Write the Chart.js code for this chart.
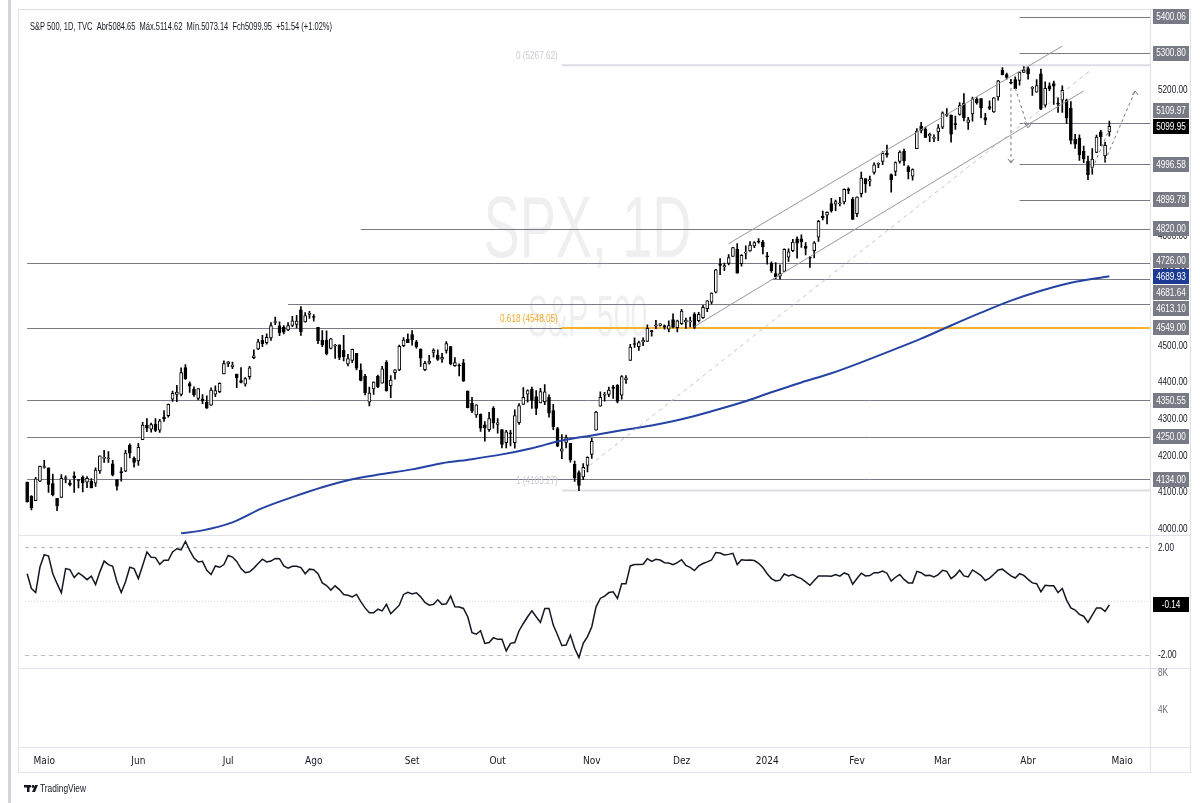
<!DOCTYPE html>
<html>
<head>
<meta charset="utf-8">
<script src="https://cdn.jsdelivr.net/npm/chart.js@4.4.1/dist/chart.umd.min.js"></script>
<style>
  html, body { margin: 0; padding: 0; background: #fff; }
  #wrap { width: 1200px; height: 803px; }
</style>
</head>
<body>
<div id="wrap"><canvas id="spx" width="1200" height="803"></canvas></div>
<script>
// dias de pregão (SPX diário, abr/2023 - mai/2024)
const months = ['2023-04','2023-05','2023-06','2023-07','2023-08','2023-09','2023-10','2023-11','2023-12','2024-01','2024-02','2024-03','2024-04','2024-05'];
const monthDays = [
  [25,26,27,28],
  [1,2,3,4,5,8,9,10,11,12,15,16,17,18,19,22,23,24,25,26,30,31],
  [1,2,5,6,7,8,9,12,13,14,15,16,20,21,22,23,26,27,28,29,30],
  [3,5,6,7,10,11,12,13,14,17,18,19,20,21,24,25,26,27,28,31],
  [1,2,3,4,7,8,9,10,11,14,15,16,17,18,21,22,23,24,25,28,29,30,31],
  [1,5,6,7,8,11,12,13,14,15,18,19,20,21,22,25,26,27,28,29],
  [2,3,4,5,6,9,10,11,12,13,16,17,18,19,20,23,24,25,26,27,30,31],
  [1,2,3,6,7,8,9,10,13,14,15,16,17,20,21,22,24,27,28,29,30],
  [1,4,5,6,7,8,11,12,13,14,15,18,19,20,21,22,26,27,28,29],
  [2,3,4,5,8,9,10,11,12,16,17,18,19,22,23,24,25,26,29,30,31],
  [1,2,5,6,7,8,9,12,13,14,15,16,20,21,22,23,26,27,28,29],
  [1,4,5,6,7,8,11,12,13,14,15,18,19,20,21,22,25,26,27,28],
  [1,2,3,4,5,8,9,10,11,12,15,16,17,18,19,22,23,24,25,26,29,30],
  [1,2,3,6,7,8,9]
];
const monthNames = ['Jan','Fev','Mar','Abr','Maio','Jun','Jul','Ago','Set','Out','Nov','Dez'];

// OHLC
const opens = [
  4126,4087,4075,4129,
  4166,4165,4122,4082,4084,4136,4124,4143,4132,4139,4126,4128,4123,4157,4191,4190,4176,4133,4155,4156,4227,4191,
  4184,4242,4282,4271,4285,4268,4304,4308,4353,4366,4366,4440,4396,4381,4355,4354,4345,4337,4367,4374,4422,
  4450,4442,4422,4404,4394,4415,4467,4491,4514,4508,4521,4563,4554,4550,4543,4555,4558,4598,4565,4585,
  4579,4550,4515,4514,4492,4498,4502,4487,4450,4459,4479,4433,4416,4345,4381,4416,4397,4455,4390,4426,4433,4500,4518,
  4530,4510,4490,4434,4452,4481,4474,4463,4487,4497,4445,4445,4453,4375,4342,4310,4312,4283,4270,4328,
  4284,4270,4234,4260,4234,4289,4339,4367,4380,4360,4343,4346,4358,4322,4273,4211,4235,4232,4175,4152,4140,4172,
  4202,4268,4334,4364,4366,4385,4391,4364,4406,4459,4505,4497,4510,4511,4539,4553,4555,4555,4545,4571,4549,
  4560,4564,4565,4586,4568,4576,4601,4619,4646,4721,4715,4725,4744,4764,4724,4753,4759,4773,4786,4783,
  4745,4726,4697,4690,4703,4742,4760,4792,4792,4772,4740,4760,4797,4854,4857,4889,4887,4888,4893,4925,4900,
  4861,4916,4957,4950,4974,4996,5004,5027,4968,4977,5004,5032,4989,4964,5039,5100,5093,5074,5067,5085,
  5098,5131,5131,5108,5133,5164,5111,5134,5174,5176,5124,5154,5140,5181,5254,5242,5220,5228,5226,5248,
  5258,5204,5194,5244,5158,5211,5217,5161,5172,5172,5150,5065,5068,5032,5005,4988,5029,5085,5019,5084.65
];
const highs = [
  4126,4089,4139,4170,
  4186,4165,4148,4082,4147,4143,4131,4154,4133,4143,4141,4136,4165,4198,4213,4210,4186,4133,4166,4213,4231,4195,
  4232,4290,4300,4288,4300,4298,4322,4340,4375,4391,4439,4448,4401,4387,4382,4366,4362,4384,4390,4398,4458,
  4456,4455,4422,4440,4412,4443,4488,4517,4528,4532,4563,4578,4565,4555,4563,4580,4583,4607,4590,4594,
  4585,4550,4541,4540,4520,4503,4502,4528,4476,4490,4479,4450,4421,4386,4401,4419,4443,4459,4418,4434,4501,4522,4532,
  4541,4514,4491,4457,4473,4491,4488,4479,4511,4498,4467,4450,4462,4376,4358,4338,4313,4292,4317,4333,
  4300,4270,4268,4268,4324,4341,4385,4379,4386,4377,4383,4393,4365,4339,4276,4256,4255,4232,4184,4157,4177,4195,
  4246,4320,4373,4372,4386,4391,4393,4418,4418,4503,4521,4512,4521,4557,4542,4569,4560,4557,4568,4587,4570,
  4599,4575,4578,4590,4591,4610,4623,4644,4709,4738,4726,4749,4769,4779,4749,4773,4785,4785,4793,4788,
  4755,4729,4727,4721,4765,4765,4791,4798,4803,4782,4744,4785,4843,4868,4866,4903,4898,4906,4929,4932,4906,
  4907,4975,4957,4964,5000,5000,5031,5049,4970,5003,5033,5038,4993,4984,5094,5111,5098,5082,5077,5105,
  5140,5149,5132,5128,5165,5190,5125,5180,5179,5176,5136,5170,5179,5226,5261,5246,5229,5236,5249,5264,
  5263,5209,5228,5257,5222,5219,5224,5178,5211,5175,5168,5078,5077,5046,5019,5039,5076,5089,5057,5114.62
];
const lows = [
  4071,4050,4075,4127,
  4164,4098,4088,4048,4084,4124,4116,4098,4110,4099,4111,4110,4114,4150,4180,4180,4143,4104,4129,4155,4192,4167,
  4172,4242,4264,4263,4264,4262,4292,4304,4347,4346,4362,4407,4372,4361,4351,4341,4328,4336,4360,4371,4422,
  4442,4437,4385,4398,4389,4408,4464,4489,4497,4504,4514,4557,4527,4532,4541,4552,4548,4528,4564,4574,
  4567,4505,4497,4474,4491,4465,4461,4458,4444,4453,4433,4403,4365,4335,4366,4385,4397,4375,4357,4408,4431,4497,4508,
  4501,4493,4443,4431,4449,4468,4459,4454,4479,4447,4443,4417,4402,4329,4316,4303,4265,4238,4265,4274,
  4260,4220,4220,4225,4219,4284,4339,4345,4328,4311,4343,4338,4304,4270,4223,4190,4220,4181,4128,4103,4133,4154,
  4191,4268,4334,4348,4360,4355,4343,4353,4396,4459,4495,4487,4500,4511,4526,4546,4553,4545,4537,4548,4537,
  4558,4547,4551,4546,4565,4574,4593,4614,4644,4694,4705,4721,4744,4698,4717,4737,4758,4768,4780,4751,
  4723,4700,4683,4682,4703,4730,4757,4739,4769,4748,4714,4740,4785,4844,4833,4865,4869,4882,4888,4916,4845,
  4853,4907,4919,4937,4969,4987,4995,5016,4920,4965,4999,4993,4956,4953,5039,5082,5069,5058,5058,5061,
  5094,5127,5057,5092,5131,5115,5092,5114,5161,5123,5105,5146,5138,5172,5241,5229,5216,5203,5213,5248,
  5229,5185,5194,5146,5153,5198,5160,5138,5138,5108,5052,5040,5007,5001,4954,4969,5028,5047,5002,5073.14
];
const closes = [
  4071.63,4055.99,4135.35,4169.48,
  4167.87,4119.58,4090.75,4061.22,4136.25,4138.12,4119.17,4137.64,4130.62,4124.08,4136.28,4109.90,4158.77,4198.05,4191.98,4192.63,4145.58,4115.24,4151.28,4205.45,4205.52,4179.83,
  4221.02,4282.37,4273.79,4283.85,4267.52,4293.93,4298.86,4338.93,4369.01,4372.59,4425.84,4409.59,4388.71,4365.69,4381.89,4348.33,4328.82,4378.41,4376.86,4396.44,4450.38,
  4455.59,4446.82,4411.59,4398.95,4409.53,4439.26,4472.16,4510.04,4505.42,4522.79,4554.98,4565.72,4534.87,4536.34,4554.64,4567.46,4566.75,4537.41,4582.23,4588.96,
  4576.73,4513.39,4501.89,4478.03,4518.44,4499.38,4467.71,4468.83,4464.05,4489.72,4437.86,4404.33,4370.36,4369.71,4399.77,4387.55,4436.01,4376.31,4405.71,4433.31,4497.63,4514.87,4507.66,
  4515.77,4496.83,4465.48,4451.14,4457.49,4487.46,4461.90,4467.44,4505.10,4450.32,4453.53,4443.95,4402.20,4330.00,4320.06,4337.44,4273.53,4274.51,4299.70,4288.05,
  4288.39,4229.45,4263.75,4258.19,4308.50,4335.66,4358.24,4376.95,4349.61,4327.78,4373.63,4373.20,4314.60,4278.00,4224.16,4217.04,4247.68,4186.77,4137.23,4117.37,4166.82,4193.80,
  4237.86,4317.78,4358.34,4365.98,4378.38,4382.78,4347.35,4415.24,4411.55,4495.70,4502.88,4508.24,4514.02,4547.38,4538.19,4556.62,4559.34,4550.43,4554.89,4550.58,4567.80,
  4594.63,4569.78,4567.18,4549.34,4585.59,4604.37,4622.44,4643.70,4707.09,4719.55,4719.19,4740.56,4768.37,4698.35,4746.75,4754.63,4774.75,4781.58,4783.35,4769.83,
  4742.83,4704.81,4688.68,4697.24,4763.54,4756.50,4783.45,4780.24,4783.83,4765.98,4739.21,4780.94,4839.81,4850.43,4864.60,4868.55,4894.16,4890.97,4927.93,4924.97,4845.65,
  4906.19,4958.61,4942.81,4954.23,4995.06,4997.91,5026.61,5021.84,4953.17,5000.62,5029.73,5005.57,4975.51,4981.80,5087.03,5088.80,5069.53,5078.18,5069.76,5096.27,
  5137.08,5130.95,5078.65,5104.76,5157.36,5123.69,5117.94,5175.27,5165.31,5150.48,5117.09,5149.42,5178.51,5224.62,5241.53,5234.18,5218.19,5203.58,5248.49,5254.35,
  5243.77,5205.81,5211.49,5147.21,5204.34,5202.39,5209.91,5160.64,5199.06,5123.41,5061.82,5051.41,5022.21,5011.12,4967.23,5010.60,5070.55,5071.63,5048.42,5099.95
];

// oscilador do painel inferior
const oscValues = [
  1.02,0.47,0.32,1.27,1.73,1.68,1.02,0.65,0.31,1.21,
  1.17,0.88,1.05,0.94,0.80,0.93,0.62,1.09,1.49,1.36,
  1.30,0.72,0.32,0.72,1.26,1.21,0.84,1.33,1.83,1.63,
  1.62,1.37,1.52,1.52,1.83,1.95,1.91,2.22,1.89,1.60,
  1.46,1.48,1.15,0.99,1.31,1.26,1.36,1.70,1.64,1.48,
  1.21,1.06,1.09,1.23,1.40,1.56,1.46,1.49,1.59,1.58,
  1.31,1.23,1.30,1.30,1.25,1.02,1.19,1.17,1.02,0.68,
  0.58,0.41,0.57,0.43,0.25,0.22,0.16,0.25,-0.02,-0.25,
  -0.43,-0.43,-0.30,-0.36,-0.12,-0.47,-0.31,-0.15,0.25,0.33,
  0.27,0.31,0.16,-0.05,-0.15,-0.12,0.05,-0.12,-0.10,0.19,
  -0.21,-0.22,-0.27,-0.58,-1.17,-1.23,-1.10,-1.57,-1.54,-1.36,
  -1.42,-1.42,-1.85,-1.57,-1.54,-1.10,-0.83,-0.58,-0.36,-0.58,
  -0.79,-0.27,-0.27,-0.89,-1.26,-1.65,-1.63,-1.26,-1.75,-2.10,
  -1.57,-1.32,-0.95,-0.21,0.10,0.19,0.32,0.35,0.10,0.65,
  0.65,1.31,1.36,1.36,1.37,1.58,1.48,1.56,1.53,1.43,
  1.42,1.36,1.43,1.54,1.33,1.26,1.14,1.31,1.40,1.46,
  1.53,1.81,1.79,1.72,1.74,1.78,1.36,1.54,1.52,1.53,
  1.51,1.41,1.25,1.02,0.84,0.75,0.78,1.01,0.94,0.99,
  0.90,0.84,0.72,0.59,0.77,0.94,0.94,0.94,0.93,0.99,
  0.93,1.05,0.99,0.63,0.84,1.04,0.94,0.95,1.06,1.06,
  1.12,1.04,0.75,0.89,0.99,0.81,0.68,0.68,1.11,1.06,
  0.95,0.96,0.90,0.99,1.15,1.11,0.84,0.96,1.15,0.94,
  0.90,1.16,1.06,0.95,0.77,0.86,1.00,1.16,1.19,1.06,
  0.94,0.86,1.02,0.96,0.81,0.68,0.65,0.35,0.59,0.57,
  0.57,0.32,0.47,0.04,-0.25,-0.33,-0.49,-0.56,-0.79,-0.52,
  -0.25,-0.25,-0.38,-0.14
];

// média móvel 200 (um ponto por semana aprox.)
const maDates = ['2023-06-15','2023-06-23','2023-07-05','2023-07-14','2023-07-25','2023-08-03','2023-08-14','2023-08-23',
  '2023-09-01','2023-09-13','2023-09-22','2023-10-03','2023-10-12','2023-10-23','2023-11-01','2023-11-10','2023-11-21',
  '2023-12-01','2023-12-12','2023-12-21','2024-01-03','2024-01-12','2024-01-24','2024-02-02','2024-02-13','2024-02-23',
  '2024-03-05','2024-03-14','2024-03-25','2024-04-04','2024-04-15','2024-04-26'];
const maValues = [3986,3994,4016,4055,4085,4112,4134,4148,4161,4178,4189,4202,4219,4240,4254,4268,4281,
  4298,4320,4344,4372,4399,4424,4454,4486,4519,4555,4590,4623,4650,4672,4689.93];

// níveis horizontais desenhados
const levelPrices = [5400.06, 5300.80, 5109.97, 4996.58, 4899.78, 4820.00, 4726.00, 4681.64, 4613.10, 4549.00, 4350.55, 4250.00, 4134.00];
const levelFrom   = ['2024-03-27','2024-03-27','2024-03-27','2024-03-27','2024-03-27','2023-08-16','2023-04-25','2024-01-03','2023-07-24','2023-04-25','2023-04-25','2023-04-25','2023-04-25'];

// Fibonacci
const fibFrom = '2023-10-23';
const fibLevels = [5267.62, 4548.05, 4103.27];
const fibTexts = ['0 (5267.62)', '0.618 (4548.05)', '1 (4103.27)'];

// etiquetas do eixo de preço
const tagPrices = [5400.06, 5300.80, 5109.97, 5099.95, 4996.58, 4899.78, 4820.00, 4726.00, 4689.93, 4681.64, 4613.10, 4549.00, 4350.55, 4250.00, 4134.00];
const tagKinds  = ['lv','lv','lv','last','lv','lv','lv','lv','ma','lv','lv','lv','lv','lv','lv'];
const oscLast = -0.14;

const labels = months.flatMap((m, k) => monthDays[k].map(d => m + '-' + String(d).padStart(2, '0')));

const NARROW = "'Liberation Sans Narrow', 'DejaVu Sans Condensed', sans-serif";
const SANS = "'Liberation Sans', Arial, sans-serif";
const INK = '#131722';
const GRAY = '#787b86';
const MA_BLUE = '#2443a3';

const bodyColors = opens.map((o, i) => closes[i] >= o ? '#ffffff' : '#000000');
const pt = (d, v) => ({ x: d, y: v });

function trend(label, a, b, color, dash, width) {
  return { type: 'line', label, data: [a, b], borderColor: color, borderWidth: width || 1,
    borderDash: dash || [], pointRadius: 0, yAxisID: 'y', order: 0 };
}

function squeezeText(ctx, s, x, y, size, color, align, sx, weight) {
  ctx.save();
  ctx.font = (weight || 'normal') + ' ' + size + 'px ' + SANS;
  ctx.translate(x, y);
  ctx.scale(sx, 1);
  ctx.textAlign = align;
  ctx.textBaseline = 'middle';
  ctx.fillStyle = color;
  ctx.fillText(s, 0, 0);
  ctx.restore();
}

function textWidth(ctx, s, size, weight) {
  ctx.save();
  ctx.font = (weight || 'normal') + ' ' + size + 'px ' + SANS;
  const w = ctx.measureText(s).width;
  ctx.restore();
  return w;
}

function fitText(ctx, s, x, y, size, color, width, weight) {
  squeezeText(ctx, s, x, y, size, color, 'left', width / textWidth(ctx, s, size, weight), weight);
}

const overlay = {
  id: 'overlay',
  beforeDraw(chart) {
    const c = chart.ctx;
    c.save();
    c.fillStyle = '#fff';
    c.fillRect(0, 0, chart.width, chart.height);
    c.strokeStyle = '#e0e3eb';
    c.lineWidth = 1;
    c.strokeRect(18.5, 9.5, 1172, 763);
    c.fillStyle = '#d1d4dc';
    c.fillRect(8, 0, 3, 803);
    const a = chart.chartArea, y = chart.scales.y, o = chart.scales.osc;
    c.beginPath();
    c.moveTo(18, Math.round(y.bottom) + 0.5); c.lineTo(1191, Math.round(y.bottom) + 0.5);
    c.moveTo(18, Math.round(o.bottom) + 0.5); c.lineTo(1191, Math.round(o.bottom) + 0.5);
    c.moveTo(18, Math.round(a.bottom) + 0.5); c.lineTo(1191, Math.round(a.bottom) + 0.5);
    c.moveTo(Math.round(a.right) + 0.5, 10); c.lineTo(Math.round(a.right) + 0.5, a.bottom + 25);
    c.stroke();
    c.restore();
  },
  beforeDatasetsDraw(chart) {
    const c = chart.ctx, x = chart.scales.x, y = chart.scales.y, o = chart.scales.osc, a = chart.chartArea;
    c.save();
    // rótulos dos eixos da direita (estreitos, como no original)
    ['y', 'osc', 'vol'].forEach(id => {
      const s = chart.scales[id];
      const col = id === 'vol' ? '#6a6d78' : INK;
      s.ticks.forEach(t => {
        squeezeText(c, s.options.ticks.callback(t.value), s.left + 8, s.getPixelForValue(t.value) + 0.5, 10.5, col, 'left', 0.78);
      });
    });
    // marca d'água
    const cx = x.getPixelForValue(labels.indexOf('2023-10-31'));
    squeezeText(c, 'SPX, 1D', cx, y.getPixelForValue(4808), 88, 'rgba(120,123,134,0.12)', 'center',
      208 / textWidth(c, 'SPX, 1D', 88));
    squeezeText(c, 'S&P 500', cx, y.getPixelForValue(4570), 58, 'rgba(120,123,134,0.12)', 'center',
      120 / textWidth(c, 'S&P 500', 58));

    // linhas de nível
    c.lineWidth = 1;
    c.strokeStyle = GRAY;
    levelPrices.forEach((p, k) => {
      const yy = Math.round(y.getPixelForValue(p)) + 0.5;
      c.beginPath();
      c.moveTo(x.getPixelForValue(labels.indexOf(levelFrom[k])), yy);
      c.lineTo(a.right, yy);
      c.stroke();
    });
    // Fibonacci
    const fx = x.getPixelForValue(labels.indexOf(fibFrom));
    fibLevels.forEach((p, k) => {
      const yy = y.getPixelForValue(p);
      c.beginPath();
      c.strokeStyle = k === 1 ? '#f6b12f' : '#dcdee4';
      c.lineWidth = 2;
      c.moveTo(fx, yy); c.lineTo(a.right, yy);
      c.stroke();
      squeezeText(c, fibTexts[k], fx - 4, yy - 9, 10.5, k === 1 ? '#f0a92a' : '#c8cad1', 'right', 0.78);
    });
    // guias do oscilador
    c.lineWidth = 1;
    [2, -2].forEach(v => {
      const yy = Math.round(o.getPixelForValue(v)) + 0.5;
      c.strokeStyle = '#b8bbc3';
      c.setLineDash([4, 4]);
      c.beginPath(); c.moveTo(a.left, yy); c.lineTo(a.right, yy); c.stroke();
    });
    const y0 = Math.round(o.getPixelForValue(0)) + 0.5;
    c.strokeStyle = '#d6d8de';
    c.setLineDash([1, 2]);
    c.beginPath(); c.moveTo(a.left, y0); c.lineTo(a.right, y0); c.stroke();
    c.restore();
  },
  afterDatasetsDraw(chart) {
    const c = chart.ctx, y = chart.scales.y, o = chart.scales.osc;
    c.save();
    // pontas de seta
    const head = (name, which, dir) => {
      const idx = chart.data.datasets.findIndex(d => d.label === name);
      const p = chart.getDatasetMeta(idx).data[which];
      c.strokeStyle = GRAY; c.lineWidth = 1; c.setLineDash([]);
      c.beginPath();
      c.moveTo(p.x - 3, p.y - 4 * dir); c.lineTo(p.x, p.y); c.lineTo(p.x + 3, p.y - 4 * dir);
      c.stroke();
    };
    head('arrowA', 1, 1);
    head('arrowB', 1, 1);
    head('arrowD', 1, -1);

    // etiquetas do eixo direito
    const H = 16;
    const ys = tagPrices.map(p => y.getPixelForValue(p));
    const pinned = tagKinds.map(k => k !== 'lv');
    for (let pass = 0; pass < 30; pass++) {
      let moved = false;
      for (let k = 1; k < ys.length; k++) {
        const gap = ys[k] - ys[k - 1];
        if (gap < H - 0.01) {
          const d = H - gap;
          if (pinned[k - 1]) ys[k] += d;
          else if (pinned[k]) ys[k - 1] -= d;
          else { ys[k - 1] -= d / 2; ys[k] += d / 2; }
          moved = true;
        }
      }
      if (!moved) break;
    }
    const bx = chart.chartArea.right + 3;
    const tag = (txt, yy, bg) => {
      c.fillStyle = bg;
      c.fillRect(bx, Math.round(yy - 7.5), 36, 15);
      squeezeText(c, txt, bx + 18, yy + 0.5, 10.5, '#fff', 'center', 0.78);
    };
    tagPrices.forEach((p, k) => {
      const bg = tagKinds[k] === 'last' ? '#000' : tagKinds[k] === 'ma' ? '#1c3a93' : GRAY;
      tag(p.toFixed(2), ys[k], bg);
    });
    tag(oscLast.toFixed(2), o.getPixelForValue(oscLast), '#000');
    c.restore();
  },
  afterDraw(chart) {
    const c = chart.ctx;
    fitText(c, 'S&P 500, 1D, TVC  Abr5084.65  Máx.5114.62  Mín.5073.14  Fch5099.95  +51.54 (+1.02%)', 30, 27, 11, INK, 302);
    // logo
    c.save();
    c.fillStyle = INK;
    c.fillRect(24, 785, 7, 2.5);
    c.fillRect(27, 785, 2.5, 7);
    c.beginPath(); c.arc(33, 786.5, 1.4, 0, Math.PI * 2); c.fill();
    c.beginPath(); c.moveTo(35, 785); c.lineTo(38, 785); c.lineTo(35, 792); c.lineTo(32, 792); c.closePath(); c.fill();
    c.restore();
    fitText(c, 'TradingView', 40, 789, 11, INK, 46);
  }
};

const tickFont = { family: NARROW, size: 10 };
// os rótulos da direita são desenhados pelo plugin (texto estreito); o Chart.js só calcula os ticks
const hiddenTicks = { padding: 7, font: tickFont, color: 'rgba(0,0,0,0)' };

new Chart(document.getElementById('spx'), {
  type: 'bar',
  data: {
    labels,
    datasets: [
      { label: 'wick', data: lows.map((l, i) => [l, highs[i]]), backgroundColor: '#000',
        barThickness: 1, grouped: false, yAxisID: 'y', order: 3 },
      { label: 'body', data: opens.map((op, i) => [op, closes[i]]), backgroundColor: bodyColors,
        borderColor: '#000', borderWidth: 1, borderSkipped: false, barThickness: 3, minBarLength: 1,
        grouped: false, yAxisID: 'y', order: 2 },
      { type: 'line', label: 'ma200', data: maDates.map((d, k) => pt(d, maValues[k])), borderColor: MA_BLUE,
        borderWidth: 2, pointRadius: 0, cubicInterpolationMode: 'monotone', yAxisID: 'y', order: 1 },
      trend('chanTop', pt('2023-12-18', 4779), pt('2024-04-11', 5320), '#9598a1'),
      trend('chanLow', pt('2023-12-06', 4552), pt('2024-04-18', 5197), '#9598a1'),
      trend('fibTrend', pt('2023-10-30', 4158), pt('2024-04-22', 5257), '#c3c5cc', [4, 4]),
      trend('arrowA', pt('2024-03-25', 5205), pt('2024-03-25', 5000), GRAY, [3, 3]),
      trend('arrowB', pt('2024-03-26', 5205), pt('2024-04-01', 5096), GRAY, [3, 3]),
      trend('arrowC', pt('2024-04-22', 4984), pt('2024-04-26', 5093), GRAY, [3, 3]),
      trend('arrowD', pt('2024-04-25', 5006), pt('2024-05-06', 5197), GRAY, [3, 3]),
      { type: 'line', label: 'osc', data: oscValues, borderColor: INK, borderWidth: 1.5,
        pointRadius: 0, yAxisID: 'osc', order: 1 }
    ]
  },
  options: {
    responsive: false,
    animation: false,
    devicePixelRatio: 1,
    layout: { padding: { left: 25, top: 12, right: 10, bottom: 31 } },
    plugins: { legend: { display: false }, tooltip: { enabled: false } },
    scales: {
      x: {
        type: 'category',
        offset: true,
        grid: { display: false, drawTicks: false },
        border: { display: false },
        ticks: {
          autoSkip: false, maxRotation: 0, padding: 8, font: tickFont, color: INK,
          callback: (v) => {
            const l = labels[v], prev = labels[v - 1];
            if (!prev || l.slice(0, 7) === prev.slice(0, 7)) return null;
            const mo = +l.slice(5, 7);
            return mo === 1 ? l.slice(0, 4) : monthNames[mo - 1];
          }
        },
        afterFit: s => { s.height = 25; }
      },
      y: {
        position: 'right', stack: 'panes', stackWeight: 523, weight: 0,
        min: 3980.5, max: 5410.5,
        grid: { display: false, drawTicks: false }, border: { display: false },
        ticks: { ...hiddenTicks, stepSize: 100, includeBounds: false, callback: v => v.toFixed(2) },
        afterBuildTicks: s => { s.ticks = s.ticks.filter(t => t.value % 100 === 0); },
        afterFit: s => { s.width = 40; }
      },
      osc: {
        position: 'right', stack: 'panes', stackWeight: 133, weight: 1,
        min: -2.49, max: 2.45,
        grid: { display: false, drawTicks: false }, border: { display: false },
        ticks: { ...hiddenTicks, callback: v => v.toFixed(2) },
        afterBuildTicks: s => { s.ticks = [{ value: -2 }, { value: 2 }]; },
        afterFit: s => { s.width = 40; }
      },
      vol: {
        position: 'right', stack: 'panes', stackWeight: 79, weight: 2,
        min: 0, max: 8540,
        grid: { display: false, drawTicks: false }, border: { display: false },
        ticks: { ...hiddenTicks, callback: v => (v / 1000) + 'K' },
        afterBuildTicks: s => { s.ticks = [{ value: 4000 }, { value: 8000 }]; },
        afterFit: s => { s.width = 40; }
      }
    }
  },
  plugins: [overlay]
});
</script>
</body>
</html>
